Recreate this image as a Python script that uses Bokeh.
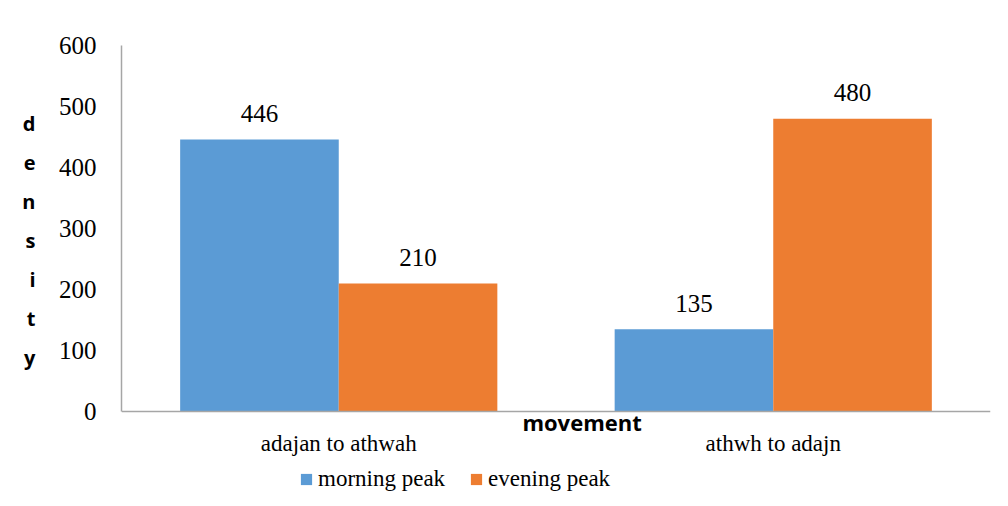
from bokeh.plotting import figure
from bokeh.models import (ColumnDataSource, Range1d, LabelSet, Legend, LegendItem,
                          FixedTicker, LinearAxis)
from bokeh.transform import dodge
from bokeh.embed import file_html
from bokeh.resources import INLINE

# ---- data ----
categories = ["adajan to athwah", "athwh to adajn"]
morning_peak = [446, 135]
evening_peak = [210, 480]
series_names = ["morning peak", "evening peak"]
y_ticks = [0, 100, 200, 300, 400, 500, 600]
x_title = "movement"
y_title = "density"

BLUE = "#5B9BD5"
ORANGE = "#ED7D31"
AXIS = "#A6A6A6"

# frame runs from the top of the value axis down to the bottom of the page, so that
# the x labels and the legend below the zero line stay inside the drawing area
PX_PER_UNIT = 366 / 600
Y_START = -95 / PX_PER_UNIT

xc = [i + 0.5 for i in range(len(categories))]
src = ColumnDataSource(dict(xc=xc, morning=morning_peak, evening=evening_peak,
                            mlab=[str(v) for v in morning_peak],
                            elab=[str(v) for v in evening_peak]))

p = figure(width=1008, height=506, x_range=Range1d(0, len(categories)),
           y_range=Range1d(Y_START, 600), output_backend="svg", toolbar_location=None,
           x_axis_location=None,
           min_border_left=121, min_border_right=18, min_border_top=45, min_border_bottom=0)
p.title.visible = False
p.outline_line_color = None
p.background_fill_color = "white"
p.border_fill_color = "white"
p.xgrid.visible = False
p.ygrid.visible = False

bw = 0.365
r1 = p.vbar(x=dodge("xc", -bw / 2), top="morning", width=bw, source=src,
            fill_color=BLUE, line_color=None)
r2 = p.vbar(x=dodge("xc", bw / 2), top="evening", width=bw, source=src,
            fill_color=ORANGE, line_color=None)

for col, lab, off in (("morning", "mlab", -bw / 2), ("evening", "elab", bw / 2)):
    p.add_layout(LabelSet(x=dodge("xc", off), y=col, text=lab, source=src,
                          y_offset=26, text_align="center", text_baseline="middle",
                          text_font="Open Sans", text_font_size="25px", text_color="black"))

# y axis (numbers)
ya = p.yaxis[0]
ya.ticker = FixedTicker(ticks=y_ticks)
ya.bounds = (0, 600)
ya.major_label_text_font = "Liberation Serif"
ya.major_label_text_font_size = "25px"
ya.major_label_text_color = "black"
ya.major_tick_out = 0
ya.major_tick_in = 0
ya.minor_tick_out = 0
ya.minor_tick_in = 0
ya.axis_line_color = AXIS
ya.axis_line_width = 1.5
ya.major_label_standoff = 25

# stacked y title letters as an outer left axis
letter_pos = [472 - 64 * i for i in range(len(y_title))]
ta = LinearAxis(ticker=FixedTicker(ticks=letter_pos),
                major_label_overrides={v: ch for v, ch in zip(letter_pos, y_title)},
                axis_line_color=None, major_tick_out=0, major_tick_in=0,
                minor_tick_out=0, minor_tick_in=0, major_label_standoff=20,
                major_label_text_font="Open Sans", major_label_text_font_style="bold",
                major_label_text_font_size="20px", major_label_text_color="black")
p.add_layout(ta, "left")

# x axis line at zero + "movement" title
mpos = 1.06
ma = LinearAxis(ticker=FixedTicker(ticks=[mpos]), fixed_location=0,
                major_label_overrides={mpos: x_title},
                axis_line_color=AXIS, axis_line_width=1.5,
                major_tick_out=0, major_tick_in=0, minor_tick_out=0, minor_tick_in=0,
                major_label_standoff=-5,
                major_label_text_font="Open Sans", major_label_text_font_style="bold",
                major_label_text_font_size="22px", major_label_text_color="black")
p.add_layout(ma, "below")

# category labels
ca = LinearAxis(ticker=FixedTicker(ticks=xc), fixed_location=0,
                major_label_overrides={v: c for v, c in zip(xc, categories)},
                axis_line_color=None, major_tick_out=0, major_tick_in=0,
                minor_tick_out=0, minor_tick_in=0, major_label_standoff=19,
                major_label_text_font="Liberation Serif", major_label_text_font_size="23px",
                major_label_text_color="black")
p.add_layout(ca, "below")

# legend below the category labels
lg = Legend(items=[LegendItem(label=series_names[0], renderers=[r1]),
                   LegendItem(label=series_names[1], renderers=[r2])],
            orientation="horizontal", location=(178, 14), margin=0, padding=5, spacing=24,
            glyph_width=14, glyph_height=14, label_standoff=5,
            label_text_font="Liberation Serif", label_text_font_size="23px",
            label_text_color="black", border_line_color=None, background_fill_alpha=0)
p.add_layout(lg, "center")

open("out.html", "w").write(file_html(p, INLINE))
